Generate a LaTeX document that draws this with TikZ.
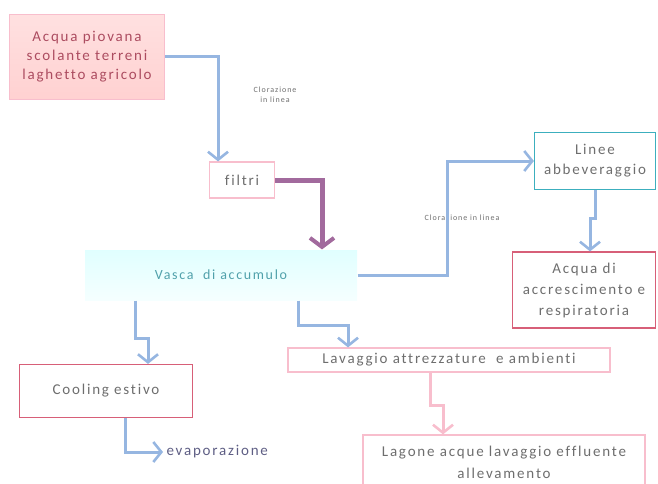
\documentclass[tikz,border=0pt]{standalone}
\usepackage{fontspec}
\setmainfont{Carlito}
\newfontfamily\boxfont[LetterSpace=12,Ligatures=NoCommon]{Carlito}
\usetikzlibrary{arrows.meta}
\definecolor{flowblue}{RGB}{150,182,225}
\definecolor{flowpink}{RGB}{248,190,205}
\definecolor{flowpurple}{RGB}{145,80,140}
\definecolor{boxred}{RGB}{215,95,120}
\definecolor{boxteal}{RGB}{60,175,190}
\definecolor{textgray}{RGB}{110,110,110}
\begin{document}
\begin{tikzpicture}[x=1pt,y=-1pt]
  \tikzset{stagebox/.style={draw=boxred,line width=1.2pt,fill=white,align=center,
             text=textgray,font=\boxfont\fontsize{15}{20}\selectfont,inner sep=2pt},
           flowline/.style={draw=flowblue,line width=3pt,
             -{Straight Barb[length=8pt,width=20pt,line width=2.6pt]}},
           smalllabel/.style={text=textgray,font=\boxfont\fontsize{8}{10}\selectfont,align=center}}
  \useasboundingbox (0,0) rectangle (658,484);
  % boxes
  \node[stagebox,draw=flowpink,top color=red!12,bottom color=red!18,text=boxred!80!black,
        minimum width=155pt,minimum height=85pt,font=\boxfont\fontsize{15}{19}\selectfont]
        (rain) at (87,57) {Acqua piovana\\scolante terreni\\laghetto agricolo};
  \node[stagebox,draw=flowpink,minimum width=65pt,minimum height=36pt] (filtri) at (242,180) {filtri};
  \node[stagebox,draw=none,top color=cyan!12,bottom color=cyan!4,text=boxteal!70!gray,
        minimum width=272pt,minimum height=50pt,font=\boxfont\fontsize{14}{18}\selectfont]
        (vasca) at (221,275) {Vasca\ \ di accumulo};
  \node[stagebox,draw=boxteal,minimum width=121pt,minimum height=57pt] (linee) at (595,161) {Linee\\abbeveraggio};
  \node[stagebox,minimum width=143pt,minimum height=76pt,font=\boxfont\fontsize{15}{21}\selectfont]
        (crescita) at (584,290) {Acqua di\\accrescimento e\\respiratoria};
  \node[stagebox,minimum width=173pt,minimum height=53pt] (cooling) at (106,391) {Cooling estivo};
  \node[stagebox,draw=flowpink,minimum width=322pt,minimum height=24pt] (lavaggio) at (449,360) {Lavaggio attrezzature\ \ e ambienti};
  \node[stagebox,draw=flowpink,minimum width=282pt,minimum height=54pt,font=\boxfont\fontsize{15}{22}\selectfont]
        (lagone) at (504,462) {Lagone acque lavaggio effluente\\allevamento};
  \node[text=textgray!85!blue,font=\boxfont\fontsize{15}{18}\selectfont,anchor=west] (evap) at (163,452) {evaporazione};
  % labels
  \node[smalllabel] (clor1) at (275,95) {Clorazione\\in linea};
  \node[smalllabel] (clor2) at (462,218) {Clorazione in linea};
  % connectors
  \draw[flowline] (rain.east) -| ([xshift=-24pt]filtri.north);
  \draw[draw=flowpurple!85,line width=5pt,-{Straight Barb[length=9pt,width=24pt,line width=4pt]}]
        (filtri.east) -| ([xshift=101pt]vasca.north);
  \draw[flowline] (vasca.east) -- ++(90,0) |- (linee.west);
  \draw[flowline] (linee.south) -- ++(0,28) -- ++(-5,0) -- ([xshift=6pt]crescita.north);
  \draw[flowline] ([xshift=-86pt]vasca.south) -- ++(0,38) -- ++(13,0) -- ([xshift=42pt]cooling.north);
  \draw[flowline] ([xshift=19pt]cooling.south) |- (evap.west);
  \draw[flowline] ([xshift=77pt]vasca.south) -- ++(0,25) -| ([xshift=-101pt]lavaggio.north);
  \draw[flowline,draw=flowpink] ([xshift=-19pt]lavaggio.south) -- ++(0,33) -- ++(13,0) -- ([xshift=-61pt]lagone.north);
\end{tikzpicture}
\end{document}
